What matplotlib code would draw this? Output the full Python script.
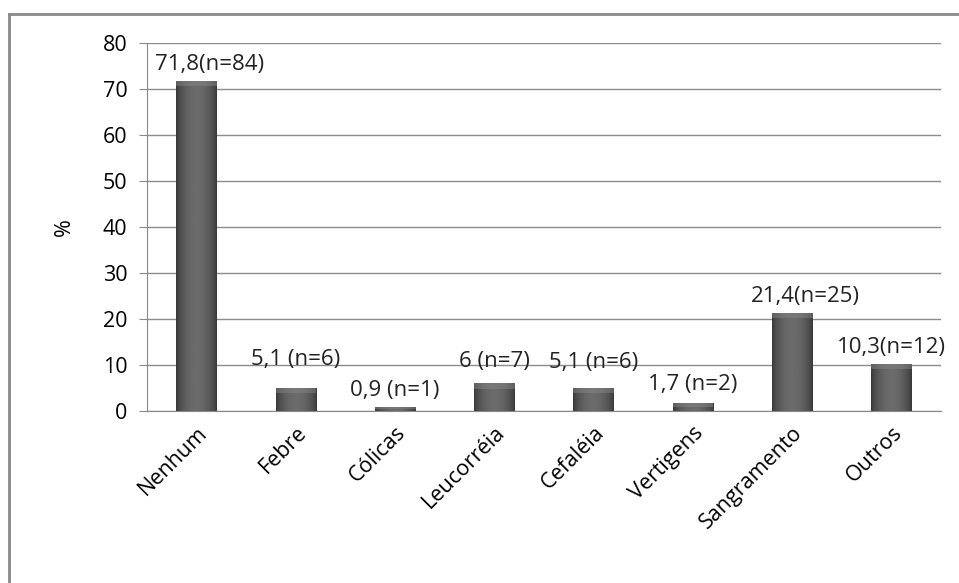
import numpy as np
import matplotlib
matplotlib.use('Agg')
import matplotlib.pyplot as plt
from matplotlib.lines import Line2D

categories = ["Nenhum", "Febre", "Cólicas", "Leucorréia", "Cefaléia",
              "Vertigens", "Sangramento", "Outros"]
values = [71.8, 5.1, 0.9, 6.0, 5.1, 1.7, 21.4, 10.3]
labels = ["71,8(n=84)", "5,1 (n=6)", "0,9 (n=1)", "6 (n=7)", "5,1 (n=6)",
          "1,7 (n=2)", "21,4(n=25)", "10,3(n=12)"]
# small manual nudges of the value labels, as in the original
label_dx = [0.13, 0, 0, 0, 0, 0, 0.13, 0]
label_dy = [0, 2.6, 0, 1.2, 2.0, 0.5, 0, 0]

plt.rcParams['font.family'] = ['Open Sans', 'DejaVu Sans']

fig = plt.figure(figsize=(9.59, 5.83), dpi=100)
ax = fig.add_axes([0.1533, 0.295, 0.828, 0.631])

x = np.arange(len(categories))
bars = ax.bar(x, values, width=0.41, color="#4a4a4a", zorder=3)

# cylinder-like shading inside each bar
grad = np.linspace(0, 1, 64)
shade = 0.22 + 0.2 * np.sin(grad * np.pi) ** 0.7
img = np.tile(shade, (2, 1))
for b in bars:
    x0, w, h = b.get_x(), b.get_width(), b.get_height()
    im = ax.imshow(img, extent=[x0, x0 + w, 0, h], aspect='auto',
                   cmap='gray', vmin=0, vmax=1, zorder=4, origin='lower')
    im.set_clip_path(b)
    top = min(1.2, h * 0.5)
    ax.fill_between([x0, x0 + w], h - top, h, color="#8a8a8a", alpha=0.45,
                    zorder=5, linewidth=0)

for i, (v, lab) in enumerate(zip(values, labels)):
    ax.text(i + label_dx[i], v + 1.2 + label_dy[i], lab, ha='center',
            va='bottom', fontsize=16, color="#222222", zorder=6)

ax.set_xlim(-0.5, len(categories) - 0.5)
ax.set_ylim(0, 80)
ax.set_yticks(range(0, 81, 10))
ax.set_xticks(x)
ax.set_xticklabels(categories, rotation=45, ha='right', rotation_mode='anchor',
                   fontsize=15.5)
ax.tick_params(axis='y', labelsize=15.5, length=6, color="#888888", pad=8)
ax.tick_params(axis='x', length=0, pad=8)
ax.yaxis.grid(True, color="#8c8c8c", linewidth=1, zorder=0)
ax.set_axisbelow(True)
for s in ['top', 'right']:
    ax.spines[s].set_visible(False)
ax.spines['left'].set_color("#888888")
ax.spines['bottom'].set_color("#888888")
ax.set_ylabel("%", fontsize=15.5, labelpad=20)

# outer chart frame (left and top edges visible)
fig.add_artist(Line2D([9 / 959, 9 / 959], [0, 1 - 14 / 583], color="#8a8a8a",
                      linewidth=2, transform=fig.transFigure))
fig.add_artist(Line2D([9 / 959, 1], [1 - 14 / 583, 1 - 14 / 583], color="#8a8a8a",
                      linewidth=2, transform=fig.transFigure))

fig.savefig("out.png", dpi=100)
